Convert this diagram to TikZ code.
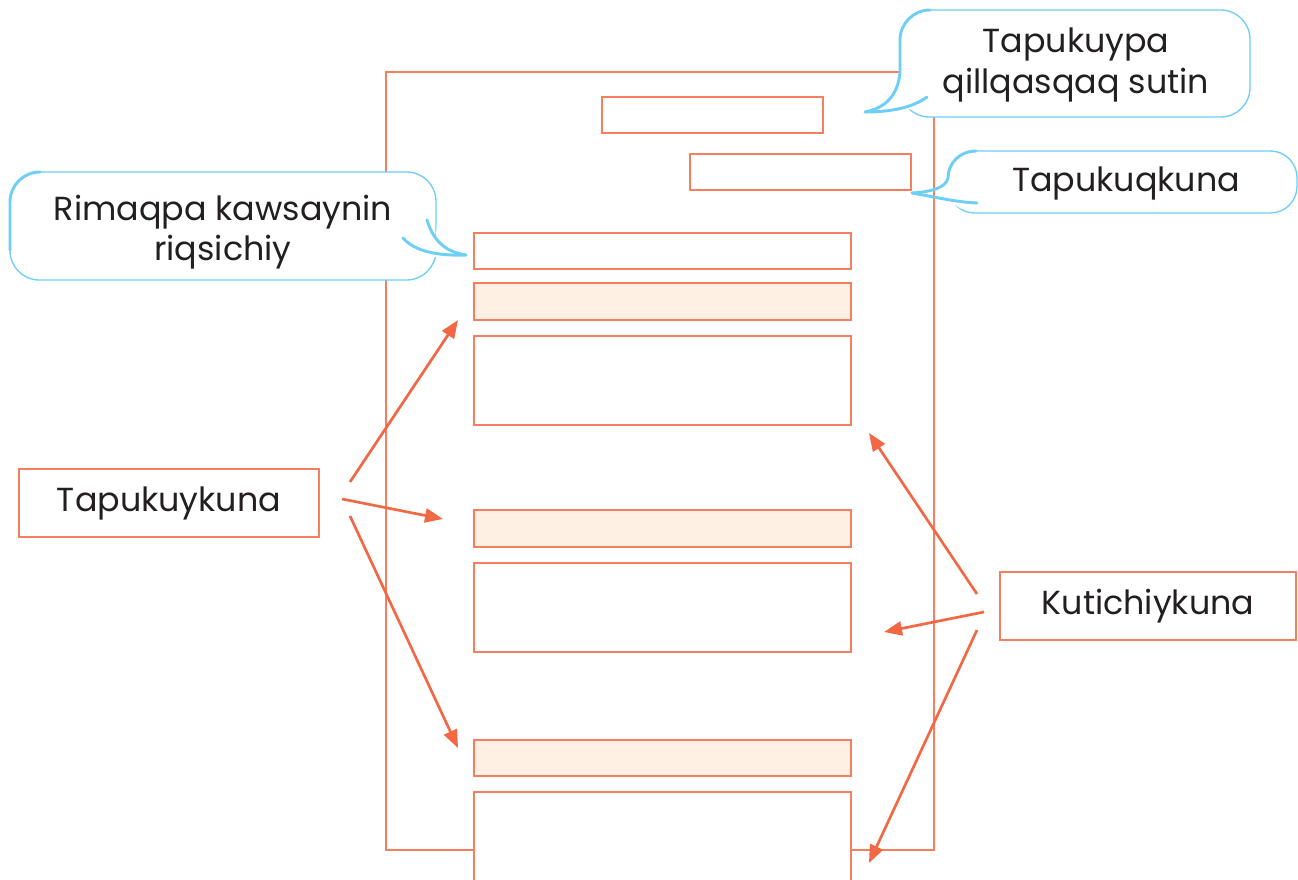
\documentclass[tikz,border=0pt]{standalone}
\usepackage{fontspec}
\setmainfont{Poppins}
\usetikzlibrary{arrows.meta,fit}
\definecolor{pageor}{HTML}{F47E5E}
\definecolor{arrowor}{HTML}{F26844}
\definecolor{lightor}{HTML}{FEF1E4}
\definecolor{bubblue}{HTML}{6DCFF6}
\definecolor{txt}{HTML}{231F20}
\begin{document}
\begin{tikzpicture}[x=0.75pt,y=-0.75pt,
  frame/.style={draw=pageor, line width=1.1pt, inner sep=0pt},
  slot/.style={draw=pageor, line width=1.4pt, fill=white, inner sep=0pt},
  slotfill/.style={slot, fill=lightor},
  lbl/.style={draw=pageor, line width=1.1pt, fill=white, text=txt, font=\fontsize{25}{30}\selectfont, minimum height=51pt, inner sep=0pt},
  ptr/.style={draw=arrowor, line width=2pt, -{Triangle[length=13.5pt,width=10.5pt]}},
  bub/.style={draw=bubblue, line width=1pt, fill=white, rounded corners=22pt},
  tail/.style={draw=bubblue, line width=2.2pt, line cap=round},
  btxt/.style={text=txt, font=\fontsize{25}{30.5}\selectfont, align=center, inner sep=0pt}]
\useasboundingbox (0,0) rectangle (1298,880);
% page
\node[frame, fit={(386,72) (934,850)}] (page) {};
% slots
\node[slot, fit={(602,97) (823,133)}] (title) {};
\node[slot, fit={(690,154) (911,190)}] (quest) {};
\node[slot, fit={(474,233) (851,269)}] (intro) {};
\node[slotfill, fit={(474,283) (851,320)}] (q1) {};
\node[slot, fit={(474,336) (851,425)}] (a1) {};
\node[slotfill, fit={(474,510) (851,547)}] (q2) {};
\node[slot, fit={(474,563) (851,652)}] (a2) {};
\node[slotfill, fit={(474,740) (851,776)}] (q3) {};
\node[slot, fit={(474,792) (851,900)}] (a3) {};
% labels
\node[lbl, minimum width=225pt] (tk) at (169,503) {Tapukuykuna};
\node[lbl, minimum width=222pt] (kk) at (1148,606) {Kutichiykuna};
% arrow ends
\coordinate (t1) at (350,482);
\coordinate (t2) at (342,499);
\coordinate (t3) at (350,516);
\coordinate (g1) at (458,320);
\coordinate (g2) at (443,519);
\coordinate (g3) at (458,748);
\coordinate (k1) at (977,594);
\coordinate (k2) at (984,612);
\coordinate (k3) at (977,630);
\coordinate (h1) at (869,433);
\coordinate (h2) at (884,632);
\coordinate (h3) at (869,863);
\draw[ptr] (t1) -- (g1);
\draw[ptr] (t2) -- (g2);
\draw[ptr] (t3) -- (g3);
\draw[ptr] (k1) -- (h1);
\draw[ptr] (k2) -- (h2);
\draw[ptr] (k3) -- (h3);
% bubble 1
\draw[bub] (900,10) rectangle (1250,117);
\fill[white] (900,72) .. controls (898,96) and (885,108) .. (865,112) .. controls (885,112) and (903,110) .. (914,109) -- (906,84) -- cycle;
\draw[tail] (930,10) .. controls (913.4,10) and (900,23.4) .. (900,40) -- (900,72) .. controls (898,96) and (885,108) .. (865,112);
\draw[tail] (865,112) .. controls (890,112) and (912,108) .. (927,97);
\node[btxt] (b1) at (1076,65) {Tapukuypa\\qillqasqaq sutin};
% bubble 2
\draw[bub, rounded corners=20pt] (948,151) rectangle (1297,213);
\fill[white] (945,178) -- (952,178) -- (966,203) -- (962,209) -- (945,200) -- cycle;
\draw[tail] (976,151) .. controls (960,151) and (948,163) .. (948,178) .. controls (946,188) and (930,192) .. (912,193);
\draw[tail] (912,193) .. controls (935,197) and (955,202) .. (977,203);
\node[btxt] (b2) at (1126,184) {Tapukuqkuna};
% bubble 3
\draw[bub] (10,172) rectangle (436,280);
\fill[white] (437,226) .. controls (440,245) and (450,253) .. (466,255) .. controls (450,256) and (440,257) .. (433,257) -- cycle;
\draw[tail] (40,172) .. controls (23.4,172) and (10,185.4) .. (10,202) -- (10,250);
\draw[tail] (427,220) .. controls (433,240) and (445,252) .. (466,255);
\draw[tail] (466,255) .. controls (440,256) and (415,252) .. (403,238);
\node[btxt] (b3) at (223,232) {Rimaqpa kawsaynin\\riqsichiy};
\end{tikzpicture}
\end{document}
